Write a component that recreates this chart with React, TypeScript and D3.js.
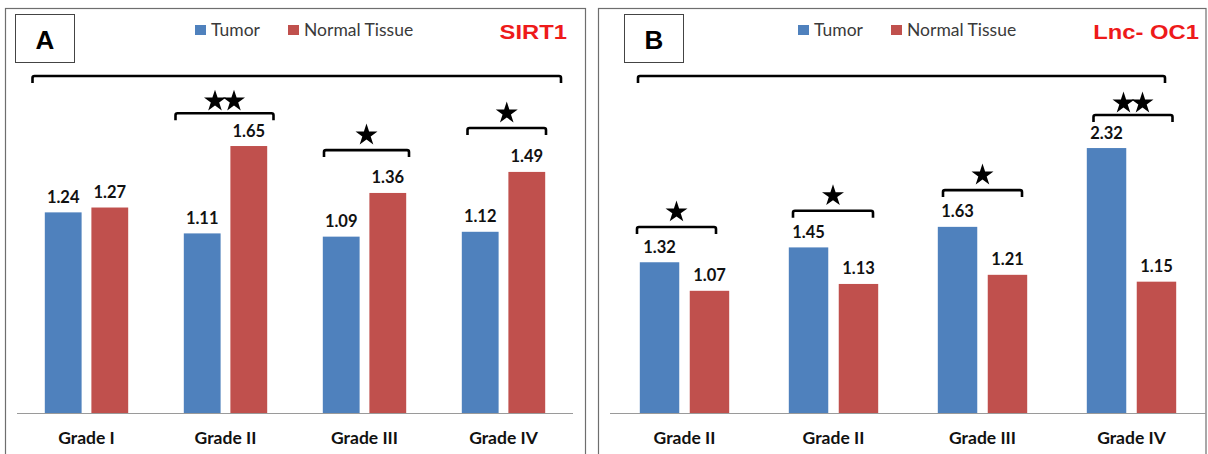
import * as d3 from 'd3';

// series
const seriesNames = ['Tumor', 'Normal Tissue'];
const seriesColors = ['#4f81bd', '#c0504d'];

// panel A — SIRT1
const gradesA = ['Grade I', 'Grade II', 'Grade III', 'Grade IV'];
const tumorA = [1.24, 1.11, 1.09, 1.12];
const normalA = [1.27, 1.65, 1.36, 1.49];
const starsA = [0, 2, 1, 1];

// panel B — Lnc- OC1
const gradesB = ['Grade II', 'Grade II', 'Grade III', 'Grade IV'];
const tumorB = [1.32, 1.45, 1.63, 2.32];
const normalB = [1.07, 1.13, 1.21, 1.15];
const starsB = [1, 1, 1, 2];

const W = 1208;
const H = 454;

type Layout = {
  frame: [number, number];
  box: number;
  legendX: number;
  titleRight: number;
  plot: [number, number];
  base: number;
  yMax: number;
  top: number;
  bigBracket: [number, number, number];
  bracketLevel: number[];
  bracketSpan: [number, number][];
};

const layoutA: Layout = {
  frame: [5.5, 585.5],
  box: 15,
  legendX: 195,
  titleRight: 567,
  plot: [17, 573],
  base: 413,
  yMax: 2,
  top: 89.4,
  bigBracket: [32.5, 561, 2.083],
  bracketLevel: [0, 1.853, 1.625, 1.761],
  bracketSpan: [[0, 0], [-50, 48], [-40.5, 44.5], [-36, 42.5]],
};

const layoutB: Layout = {
  frame: [598.5, 1206],
  box: 624,
  legendX: 798,
  titleRight: 1199,
  plot: [610, 1206],
  base: 413,
  yMax: 2.5,
  top: 127.5,
  bigBracket: [638, 1165, 2.951],
  bracketLevel: [1.629, 1.771, 1.952, 2.609],
  bracketSpan: [[-47.5, 31.5], [-40.5, 39.5], [-39.5, 39.5], [-38, 41]],
};

const starPath = d3.symbol(d3.symbolStar, 150)() as string;

const bracket = (x0: number, x1: number, y: number, drop = 7) =>
  `M${x0},${y + drop} L${x0},${y + 2} Q${x0},${y} ${x0 + 2},${y} L${x1 - 2},${y} Q${x1},${y} ${x1},${y + 2} L${x1},${y + drop}`;

function Panel({ letter, title, grades, tumor, normal, stars, L }: {
  letter: string; title: string; grades: string[]; tumor: number[]; normal: number[]; stars: number[]; L: Layout;
}) {
  const idx = d3.range(grades.length);
  const x = d3.scaleBand<number>().domain(idx).range(L.plot).paddingInner(0.4).paddingOuter(0.2);
  const inner = d3.scaleBand<number>().domain([0, 1]).range([0, x.bandwidth()]).paddingInner(0.21);
  const y = d3.scaleLinear().domain([0, L.yMax]).range([L.base, L.top]);
  const values = [tumor, normal];
  const labelFont = 'Lato, "Open Sans", sans-serif';

  return (
    <g>
      <rect x={L.frame[0]} y={8.5} width={L.frame[1] - L.frame[0]} height={H + 20} fill="#fff" stroke="#6e6e6e" strokeWidth={1.2} />
      <rect x={L.box + 0.5} y={14.5} width={59} height={48} fill="none" stroke="#444" strokeWidth={1} />
      <text x={L.box + 30} y={49} textAnchor="middle" fontFamily="'Liberation Sans', Arial, sans-serif" fontWeight="bold" fontSize={26} fill="#000">{letter}</text>

      {/* legend */}
      {seriesNames.map((s, i) => {
        const sx = L.legendX + i * 93;
        return (
          <g key={s}>
            <rect x={sx} y={25} width={11} height={10} fill={seriesColors[i]} />
            <text x={sx + 16} y={36} fontFamily={labelFont} fontSize={17.5} fill="#3a3a3a">{s}</text>
          </g>
        );
      })}
      <text x={L.titleRight} y={39} textAnchor="end" fontFamily="'Liberation Sans', Arial, sans-serif" fontWeight="bold" fontSize={19.5} fill="#ee1a1a"
        transform={`translate(${L.titleRight},0) scale(1.22,1) translate(${-L.titleRight},0)`}>{title}</text>

      {/* bars */}
      {idx.map((g) => values.map((vals, s) => (
        <g key={`${g}-${s}`}>
          <rect x={(x(g) as number) + (inner(s) as number)} y={y(vals[g])} width={inner.bandwidth()} height={L.base - y(vals[g])} fill={seriesColors[s]} />
          <text x={(x(g) as number) + (inner(s) as number) + inner.bandwidth() / 2} y={y(vals[g]) - 9.5} textAnchor="middle" fontFamily={labelFont} fontWeight="bold" fontSize={16.5} fill="#111">{vals[g].toFixed(2)}</text>
        </g>
      )))}

      {/* axis */}
      <line x1={L.plot[0]} x2={L.plot[1]} y1={L.base + 0.5} y2={L.base + 0.5} stroke="#9a9a9a" strokeWidth={1.2} />
      {idx.map((g) => (
        <text key={g} x={(x(g) as number) + x.bandwidth() / 2} y={443.5} textAnchor="middle" fontFamily={labelFont} fontWeight="bold" fontSize={17.5} fill="#111">{grades[g]}</text>
      ))}

      {/* significance */}
      <path d={bracket(L.bigBracket[0], L.bigBracket[1], y(L.bigBracket[2]))} fill="none" stroke="#000" strokeWidth={2.6} />
      {idx.filter((g) => stars[g] > 0).map((g) => {
        const c = (x(g) as number) + x.bandwidth() / 2;
        const by = y(L.bracketLevel[g]);
        const [a, b] = L.bracketSpan[g];
        const n = stars[g];
        const sy = by - (n > 1 ? 12 : 15);
        const sc = c + (a + b) / 2;
        return (
          <g key={`s${g}`}>
            <path d={bracket(c + a, c + b, by)} fill="none" stroke="#000" strokeWidth={2.6} />
            {d3.range(n).map((k) => (
              <path key={k} d={starPath} fill="#000" transform={`translate(${sc + (k - (n - 1) / 2) * 19},${sy})`} />
            ))}
          </g>
        );
      })}
    </g>
  );
}

export default function App() {
  return (
    <svg width={W} height={H} viewBox={`0 0 ${W} ${H}`} style={{ position: 'absolute', left: 0, top: 0, background: '#fff' }}>
      <rect width={W} height={H} fill="#fff" />
      <Panel letter="A" title="SIRT1" grades={gradesA} tumor={tumorA} normal={normalA} stars={starsA} L={layoutA} />
      <Panel letter="B" title="Lnc- OC1" grades={gradesB} tumor={tumorB} normal={normalB} stars={starsB} L={layoutB} />
    </svg>
  );
}
